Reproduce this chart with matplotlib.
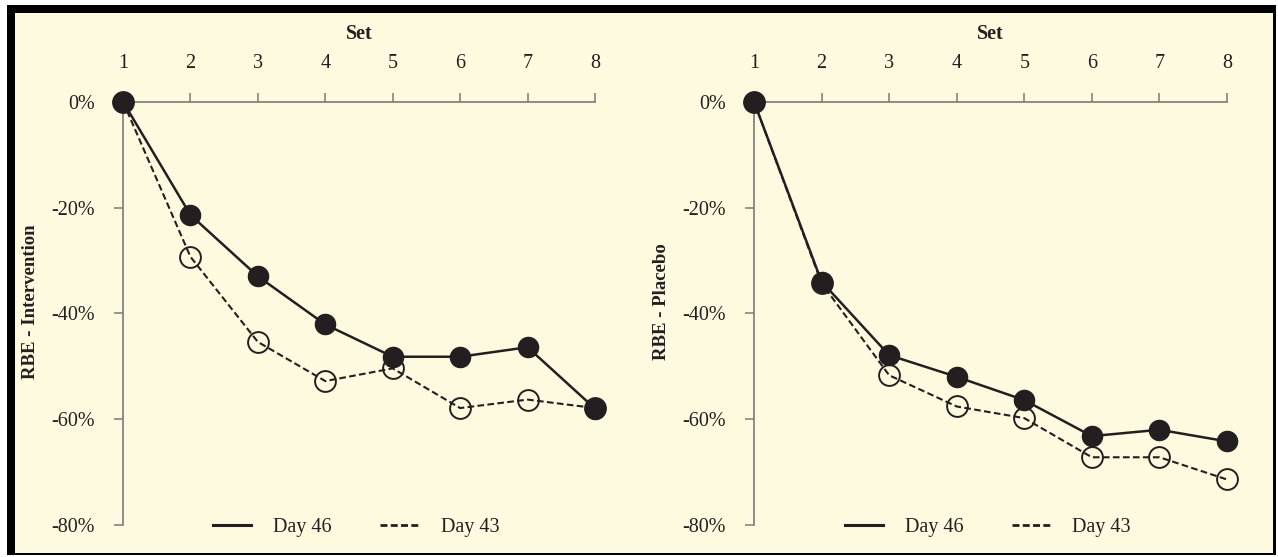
import matplotlib
matplotlib.use("Agg")
import matplotlib.pyplot as plt
from matplotlib.patches import Rectangle
from matplotlib.lines import Line2D

# ---- data -------------------------------------------------------------
sets = [1, 2, 3, 4, 5, 6, 7, 8]
set_labels = [str(s) for s in sets]
y_ticks = [0, -20, -40, -60, -80]
y_tick_labels = ["0%", "-20%", "-40%", "-60%", "-80%"]

intervention_day46 = [0, -21.4, -33.0, -42.1, -48.2, -48.2, -46.4, -58.0]
intervention_day43 = [0, -29.3, -45.4, -52.8, -50.4, -57.9, -56.3, -57.9]
placebo_day46 = [0, -34.0, -47.9, -52.0, -56.4, -63.2, -62.0, -64.2]
placebo_day43 = [0, -34.3, -51.7, -57.6, -59.8, -67.2, -67.2, -71.4]

series_labels = ["Day 46", "Day 43"]

# ---- style ------------------------------------------------------------
plt.rcParams["font.family"] = ["Liberation Serif", "DejaVu Serif"]
INK = "#231f20"
AXIS_GREY = "#7a7a7a"
CREAM = "#fefadf"
DASH = (0, (3.2, 1.6))

W, H = 1278, 557
fig = plt.figure(figsize=(W / 100, H / 100), dpi=100)
fig.patch.set_facecolor("white")


def px_rect(x0, y0, x1, y1, color):
    fig.patches.append(Rectangle((x0 / W, 1 - y1 / H), (x1 - x0) / W, (y1 - y0) / H,
                                 transform=fig.transFigure, facecolor=color,
                                 edgecolor="none", zorder=-10))


# framed cream panel
px_rect(7, 4.7, 1276, 555, "black")
px_rect(15, 13.3, 1273, 553, CREAM)

Y_TOP, Y_BOT = 101.7, 525.0


def panel(x_left, x_right, ylabel, d46, d43):
    ax = fig.add_axes([x_left / W, 1 - Y_BOT / H, (x_right - x_left) / W, (Y_BOT - Y_TOP) / H])
    ax.set_facecolor("none")
    ax.set_xlim(1, 8)
    ax.set_ylim(-80, 0)
    for s in ("bottom", "right"):
        ax.spines[s].set_visible(False)
    for s in ("top", "left"):
        ax.spines[s].set_color(AXIS_GREY)
        ax.spines[s].set_linewidth(1.2)
    ax.xaxis.tick_top()
    ax.xaxis.set_label_position("top")
    ax.set_xticks(sets, set_labels)
    ax.set_yticks(y_ticks, y_tick_labels)
    ax.tick_params(axis="x", direction="out", length=6.5, width=1.1, color=AXIS_GREY,
                   pad=14, labelsize=14.5, labelcolor=INK)
    ax.tick_params(axis="y", direction="out", length=6.5, width=1.1, color=AXIS_GREY,
                   pad=14, labelsize=14.5, labelcolor=INK)
    ax.set_xlabel("Set", fontweight="bold", fontsize=14.5, color=INK, labelpad=11)
    ax.set_ylabel(ylabel, fontweight="bold", fontsize=13.5, color=INK)
    ax.yaxis.set_label_coords(-0.178, 0.527)

    ax.plot(sets, d43, color=INK, lw=1.5, ls=DASH, marker="o", ms=15,
            mfc="none", mec=INK, mew=1.4, zorder=3, clip_on=False)
    ax.plot(sets, d46, color=INK, lw=1.8, marker="o", ms=14.5,
            mfc=INK, mec=INK, zorder=4, clip_on=False)

    handles = [Line2D([], [], color=INK, lw=2.2),
               Line2D([], [], color=INK, lw=2.0, ls=(0, (2.5, 1.2)))]
    ax.legend(handles, series_labels, loc="center", bbox_to_anchor=(0.494, -0.005),
              ncol=2, frameon=False, fontsize=14.5, handlelength=1.9,
              handletextpad=1.1, columnspacing=2.4, labelcolor=INK)
    return ax


panel(123, 595, "RBE - Intervention", intervention_day46, intervention_day43)
panel(754, 1227, "RBE - Placebo", placebo_day46, placebo_day43)

fig.savefig("out.png", dpi=100, facecolor=fig.get_facecolor())
